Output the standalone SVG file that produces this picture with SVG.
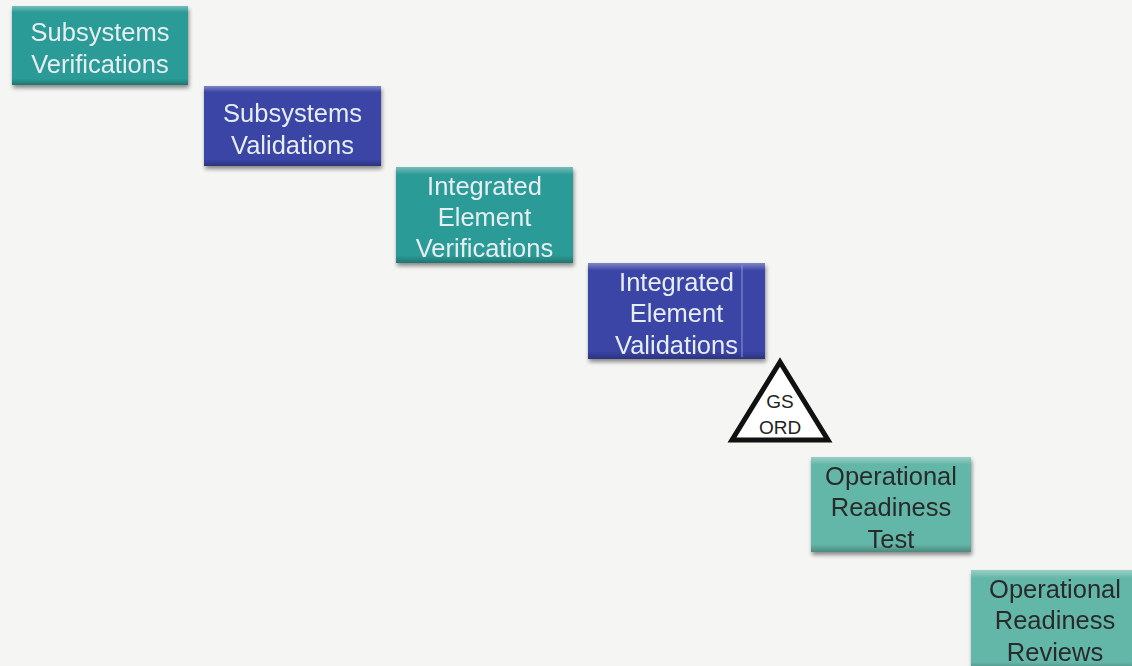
<svg xmlns="http://www.w3.org/2000/svg" width="1132" height="666" viewBox="0 0 1132 666">
<defs>
<filter id="sh" x="-10%" y="-10%" width="125%" height="130%">
<feGaussianBlur in="SourceAlpha" stdDeviation="2"/>
<feOffset dx="1" dy="3"/>
<feComponentTransfer><feFuncA type="linear" slope="0.45"/></feComponentTransfer>
<feMerge><feMergeNode/><feMergeNode in="SourceGraphic"/></feMerge>
</filter>
<linearGradient id="bevel" x1="0" y1="0" x2="0" y2="1">
<stop offset="0" stop-color="#fff" stop-opacity="0.35"/>
<stop offset="0.08" stop-color="#fff" stop-opacity="0"/>
<stop offset="0.92" stop-color="#000" stop-opacity="0"/>
<stop offset="1" stop-color="#000" stop-opacity="0.25"/>
</linearGradient>
</defs>
<style>
.teal{fill:#2c9b96}
.blue{fill:#3a44a6}
.lt{fill:#64b7a8}
.bv{fill:url(#bevel)}
.tw{font-family:"Liberation Sans",Arial,sans-serif;font-size:25.5px;fill:#e6eef2;text-anchor:middle}
.td{font-family:"Liberation Sans",Arial,sans-serif;font-size:25.5px;fill:#2a2a2a;text-anchor:middle}
.tri{font-family:"Liberation Sans",Arial,sans-serif;font-size:19px;fill:#222;text-anchor:middle}
</style>
<rect width="1132" height="666" fill="#f5f5f3"/>
<g id="connectors"></g>
<g id="n1" filter="url(#sh)">
<rect class="teal" x="12" y="6" width="176" height="79"/>
<rect class="bv" x="12" y="6" width="176" height="79"/>
<text class="tw" x="100" y="41">Subsystems</text>
<text class="tw" x="100" y="73">Verifications</text>
</g>
<g id="n2" filter="url(#sh)">
<rect class="blue" x="204" y="86" width="177" height="80"/>
<rect class="bv" x="204" y="86" width="177" height="80"/>
<text class="tw" x="292.5" y="122">Subsystems</text>
<text class="tw" x="292.5" y="154">Validations</text>
</g>
<g id="n3" filter="url(#sh)">
<rect class="teal" x="396" y="167" width="177" height="96"/>
<rect class="bv" x="396" y="167" width="177" height="96"/>
<text class="tw" x="484.5" y="195">Integrated</text>
<text class="tw" x="484.5" y="226">Element</text>
<text class="tw" x="484.5" y="257">Verifications</text>
</g>
<g id="n4" filter="url(#sh)">
<rect class="blue" x="588" y="263" width="177" height="96"/>
<rect class="bv" x="588" y="263" width="177" height="96"/>
<line x1="742" y1="265" x2="742" y2="357" stroke="#8f96d0" stroke-width="1"/>
<text class="tw" x="676.5" y="291">Integrated</text>
<text class="tw" x="676.5" y="322">Element</text>
<text class="tw" x="676.5" y="354">Validations</text>
</g>
<g id="n5">
<polygon points="780,362 732,440 828,440" fill="#fff" stroke="#111" stroke-width="5" stroke-linejoin="miter"/>
<text class="tri" x="780" y="408">GS</text>
<text class="tri" x="780" y="434">ORD</text>
</g>
<g id="n6" filter="url(#sh)">
<rect class="lt" x="811" y="457" width="160" height="95"/>
<rect class="bv" x="811" y="457" width="160" height="95"/>
<text class="td" x="891" y="485">Operational</text>
<text class="td" x="891" y="516">Readiness</text>
<text class="td" x="891" y="548">Test</text>
</g>
<g id="n7" filter="url(#sh)">
<rect class="lt" x="971" y="570" width="165" height="100"/>
<rect class="bv" x="971" y="570" width="165" height="100"/>
<text class="td" x="1055" y="598">Operational</text>
<text class="td" x="1055" y="629">Readiness</text>
<text class="td" x="1055" y="661">Reviews</text>
</g>
</svg>
